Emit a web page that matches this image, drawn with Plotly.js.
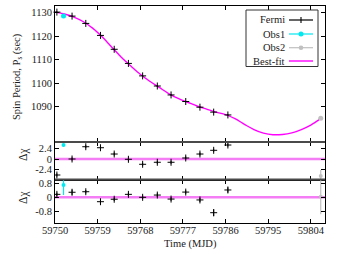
<!DOCTYPE html>
<html><head><meta charset="utf-8">
<script src="https://cdn.plot.ly/plotly-3.0.1.min.js"></script>
<style>html,body{margin:0;padding:0;background:#fff}#chart{width:338px;height:254px}</style>
</head><body><div id="chart"></div>
<script>
// ---- data ----
const fermiTime   = [59750.4, 59753.6, 59756.5, 59759.6, 59762.5, 59765.5, 59768.5, 59771.6, 59774.5, 59777.6, 59780.6, 59783.5, 59786.5];
const fermiPeriod = [1130.2, 1128.5, 1125.4, 1120.3, 1114.4, 1108.4, 1103.1, 1098.8, 1095.0, 1092.2, 1089.8, 1087.7, 1086.5];
const fermiResid1 = [-3.66, 0.0, 2.81, 2.58, 1.14, -0.07, -1.21, -0.75, -0.75, 0.23, 1.14, 1.99, 3.2];
const fermiResid2 = [0.17, 0.29, 0.32, -0.25, -0.11, 0.17, 0.0, 0.13, -0.10, 0.30, -0.15, -0.88, 0.42];
const fermiErr2   = [0.1, 0.15, 0.1, 0.12, 0.1, 0.1, 0.1, 0.1, 0.1, 0.1, 0.12, 0.2, 0.15];

const obs1Time = [59751.8], obs1Period = [1128.5], obs1Resid1 = [3.2], obs1Err1 = [0.3], obs1Resid2 = [0.70], obs1Err2 = [0.57];
const obs2Time = [59806.1], obs2Period = [1085.1], obs2Resid1 = [-3.9], obs2Err1 = [1.4], obs2Resid2 = [0.03], obs2Err2 = [1.0];

const fitTime   = [59750, 59752, 59754, 59756, 59758, 59760, 59762, 59764, 59766, 59768, 59770, 59772, 59774, 59776, 59778, 59780, 59782, 59784, 59786, 59788, 59790, 59792, 59794, 59796, 59798, 59800, 59802, 59804, 59806];
const fitPeriod = [1130.2, 1129.4, 1128.1, 1126.1, 1123.3, 1119.6, 1115.3, 1111.0, 1107.3, 1103.8, 1100.8, 1098.2, 1095.6, 1093.5, 1091.9, 1090.3, 1089.0, 1087.7, 1086.6, 1084.9, 1082.5, 1080.3, 1078.8, 1078.1, 1078.2, 1078.9, 1080.3, 1082.2, 1084.8];

const timeTicks = [59750, 59759, 59768, 59777, 59786, 59795, 59804];
const periodTicks = [1090, 1100, 1110, 1120, 1130];
const resid1Ticks = [-2.4, 0, 2.4];
const resid2Ticks = [-0.8, 0, 0.8];
const legendNames = ['Fermi', 'Obs1', 'Obs2', 'Best-fit'];

// ---- style ----
const FONT = '"Liberation Serif", "DejaVu Serif", serif';
const cFermi = '#000000', cObs1 = '#00e8f0', cObs2 = '#c0c0c0', cFit = '#ff00ff', cZero = '#f47cf4';
const W = 338, H = 254, L = 55, R = 13, T = 6, B = 31;
const pw = W - L - R, ph = H - T - B;
const px2x = p => (p - L) / pw;
const py2y = p => 1 - (p - T) / ph;
const dTop = [py2y(142), 1], dMid = [py2y(179.5), py2y(142)], dBot = [0, py2y(179.5)];

const crossMk = {symbol: 'cross-thin-open', size: 5, color: cFermi, line: {width: 1, color: cFermi}};
const traces = [
  {x: fitTime, y: fitPeriod, mode: 'lines', line: {color: cFit, width: 1.4, shape: 'spline'}, xaxis: 'x', yaxis: 'y', hoverinfo: 'skip'},
  {x: fermiTime, y: fermiPeriod, mode: 'markers', marker: crossMk, error_y: {type: 'constant', value: 0.3, width: 0, color: cFermi, thickness: 1}, xaxis: 'x', yaxis: 'y', cliponaxis: false},
  {x: obs1Time, y: obs1Period, mode: 'markers', marker: {symbol: 'circle', size: 5, color: cObs1}, xaxis: 'x', yaxis: 'y'},
  {x: obs2Time, y: obs2Period, mode: 'markers', marker: {symbol: 'circle', size: 5, color: cObs2}, xaxis: 'x', yaxis: 'y'},

  {x: fermiTime, y: fermiResid1, mode: 'markers', marker: crossMk, error_y: {type: 'constant', value: 0.35, width: 0, color: cFermi, thickness: 1}, xaxis: 'x2', yaxis: 'y2'},
  {x: obs1Time, y: obs1Resid1, mode: 'markers', marker: {symbol: 'circle', size: 4, color: cObs1}, error_y: {type: 'data', array: obs1Err1, width: 0, color: cObs1, thickness: 1.2}, xaxis: 'x2', yaxis: 'y2'},
  {x: obs2Time, y: obs2Resid1, mode: 'markers', marker: {symbol: 'circle', size: 4, color: cObs2}, error_y: {type: 'data', array: obs2Err1, width: 0, color: cObs2, thickness: 1.2}, xaxis: 'x2', yaxis: 'y2'},

  {x: fermiTime, y: fermiResid2, mode: 'markers', marker: crossMk, error_y: {type: 'data', array: fermiErr2, width: 0, color: cFermi, thickness: 1}, xaxis: 'x3', yaxis: 'y3'},
  {x: obs1Time, y: obs1Resid2, mode: 'markers', marker: {symbol: 'circle', size: 4, color: cObs1}, error_y: {type: 'data', array: obs1Err2, width: 0, color: cObs1, thickness: 1.2}, xaxis: 'x3', yaxis: 'y3'},
  {x: obs2Time, y: obs2Resid2, mode: 'markers', marker: {symbol: 'circle', size: 4, color: cObs2}, error_y: {type: 'data', array: obs2Err2, width: 0, color: cObs2, thickness: 1.2}, xaxis: 'x3', yaxis: 'y3'}
];

const tf = {family: FONT, size: 10.5, color: '#1a1a1a'};
const xBase = {range: [59750, 59807], tickvals: timeTicks, ticktext: timeTicks.map(String), ticks: 'inside', ticklen: 4, tickcolor: '#000', mirror: 'ticks',
  showline: true, linecolor: '#000', linewidth: 1, showgrid: false, zeroline: false, fixedrange: true, tickfont: tf};
const yBase = {ticks: 'inside', ticklen: 4, tickcolor: '#000', mirror: 'ticks', showline: true, linecolor: '#000', linewidth: 1,
  showgrid: false, zeroline: false, tickfont: tf, fixedrange: true};

const shapes = [
  {type: 'line', xref: 'x2 domain', yref: 'y2', x0: 0, x1: 1, y0: 0, y1: 0, line: {color: cZero, width: 2.4}, layer: 'below'},
  {type: 'line', xref: 'x3 domain', yref: 'y3', x0: 0, x1: 1, y0: 0, y1: 0, line: {color: cZero, width: 2.4}, layer: 'below'},
  {type: 'line', xref: 'paper', yref: 'paper', x0: 0, x1: 1, y0: dTop[0], y1: dTop[0], line: {color: '#4a4a4a', width: 2}},
  {type: 'line', xref: 'paper', yref: 'paper', x0: 0, x1: 1, y0: dMid[0], y1: dMid[0], line: {color: '#4a4a4a', width: 2}},
  // legend box
  {type: 'rect', xref: 'paper', yref: 'paper', x0: px2x(246), x1: px2x(318), y0: py2y(66.5), y1: py2y(10), line: {color: '#333', width: 1}, fillcolor: '#fff'}
];
const annotations = [];
const rowsY = [20, 34, 47.7, 61];
const rowCol = [cFermi, cObs1, cObs2, cFit];
legendNames.forEach((nm, i) => {
  annotations.push({xref: 'paper', yref: 'paper', x: px2x(286.5), y: py2y(rowsY[i]), xanchor: 'right', yanchor: 'middle', text: nm, showarrow: false, font: tf});
  shapes.push({type: 'line', xref: 'paper', yref: 'paper', x0: px2x(289), x1: px2x(313), y0: py2y(rowsY[i]), y1: py2y(rowsY[i]), line: {color: rowCol[i], width: i === 3 ? 1.4 : 1.2}});
});
// legend markers
const cxm = px2x(301);
shapes.push({type: 'line', xref: 'paper', yref: 'paper', xsizemode: 'pixel', ysizemode: 'pixel', xanchor: cxm, yanchor: py2y(rowsY[0]), x0: 0, x1: 0, y0: -3, y1: 3, line: {color: cFermi, width: 1.1}});
shapes.push({type: 'circle', xref: 'paper', yref: 'paper', xsizemode: 'pixel', ysizemode: 'pixel', xanchor: cxm, yanchor: py2y(rowsY[1]), x0: -2.5, x1: 2.5, y0: -2.5, y1: 2.5, fillcolor: cObs1, line: {width: 0}});
shapes.push({type: 'circle', xref: 'paper', yref: 'paper', xsizemode: 'pixel', ysizemode: 'pixel', xanchor: cxm, yanchor: py2y(rowsY[2]), x0: -2.3, x1: 2.3, y0: -2.3, y1: 2.3, fillcolor: cObs2, line: {width: 0}});

// axis titles
const ctr = {xanchor: 'center', yanchor: 'middle', showarrow: false, xref: 'paper', yref: 'paper'};
annotations.push(Object.assign({x: px2x(17), y: py2y(77), text: 'Spin Period, P<sub>s</sub> (sec)', textangle: -90, font: tf}, ctr));
annotations.push(Object.assign({x: px2x(23), y: py2y(155), text: 'Δχ', textangle: -90, font: {family: FONT, size: 11.5, color: '#1a1a1a'}}, ctr));
annotations.push(Object.assign({x: px2x(23), y: py2y(198), text: 'Δχ', textangle: -90, font: {family: FONT, size: 11.5, color: '#1a1a1a'}}, ctr));
annotations.push(Object.assign({x: px2x(190), y: py2y(244), text: 'Time (MJD)', font: tf}, ctr));

const layout = {
  width: W, height: H, margin: {l: L, r: R, t: T, b: B}, paper_bgcolor: '#fff', plot_bgcolor: '#fff', showlegend: false,
  font: {family: FONT, color: '#000'},
  xaxis: Object.assign({}, xBase, {anchor: 'y', showticklabels: false, matches: 'x3'}),
  xaxis2: Object.assign({}, xBase, {anchor: 'y2', showticklabels: false, matches: 'x3'}),
  xaxis3: Object.assign({}, xBase, {anchor: 'y3', showticklabels: true, ticklabelstandoff: -3}),
  yaxis: Object.assign({}, yBase, {domain: dTop, range: [1075, 1132.8], tickvals: periodTicks}),
  yaxis2: Object.assign({}, yBase, {domain: dMid, range: [-4.69, 3.89], tickvals: resid1Ticks, ticktext: ['-2.4', '0', '2.4']}),
  yaxis3: Object.assign({}, yBase, {domain: dBot, range: [-1.47, 1.02], tickvals: resid2Ticks, ticktext: ['-0.8', '0', '0.8']}),
  shapes: shapes, annotations: annotations
};
Plotly.newPlot('chart', traces, layout, {displayModeBar: false, staticPlot: true});
</script></body></html>
